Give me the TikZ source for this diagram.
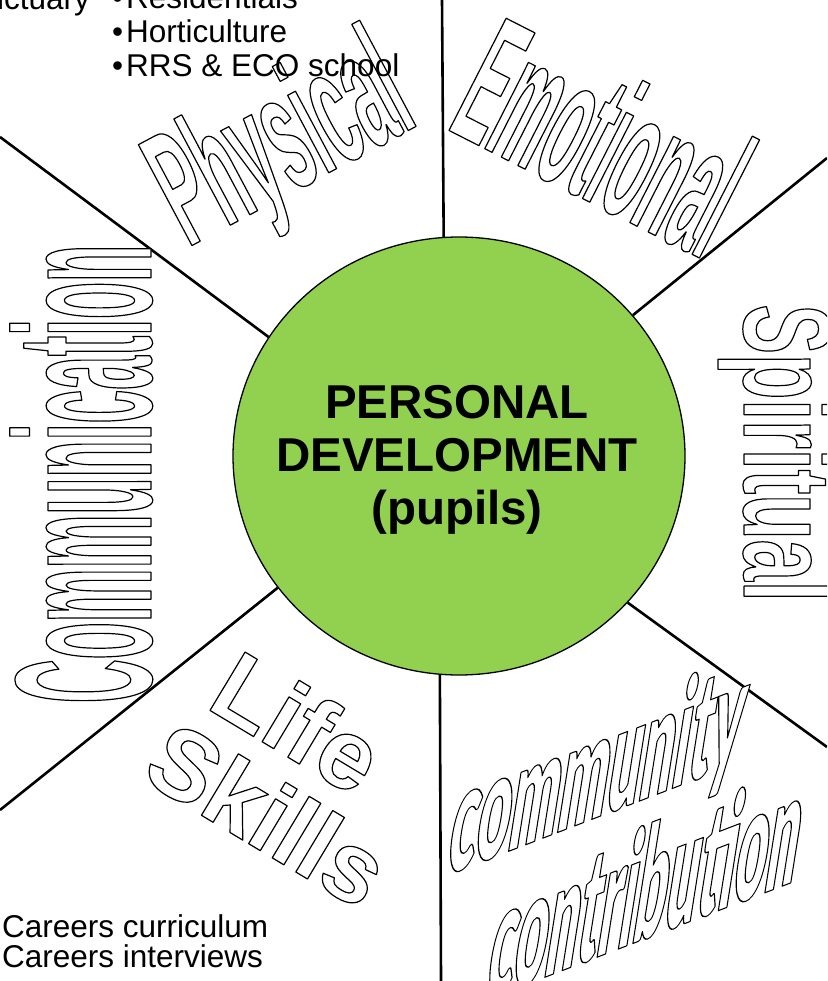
\documentclass[tikz,border=0pt]{standalone}
\usepackage{xcolor}
\usepackage{fontspec}
\usepackage{tikz}
\usetikzlibrary{shapes.geometric}
\setmainfont{Liberation Sans}
\newfontfamily\physfont{Liberation Sans}[FakeStretch=0.39]
\newfontfamily\emofont{Liberation Sans}[FakeStretch=0.327]
\newfontfamily\commfont{Liberation Sans}[FakeStretch=0.311]
\newfontfamily\spirfont{Liberation Sans}[FakeStretch=0.594]
\newfontfamily\cmtyfont{Lato Black}[FakeStretch=0.40]
\newfontfamily\contfont{Lato Black}[FakeStretch=0.36]
\definecolor{pdgreen}{RGB}{146,208,80}
% hollow letters: white fill, thin black outline
\newcommand\hollow[1]{\special{pdf:literal direct 2 Tr 1 j 1 g 0 G 1.2 w}#1%
  \special{pdf:literal direct 0 Tr 0 j 0 g}}
\tikzset{spoke/.style={line width=2.6pt}}
\tikzset{hub/.style={ellipse, draw, line width=1.3pt, fill=pdgreen,
    inner sep=0pt, minimum width=452, minimum height=438}}
\tikzset{wordart/.style={inner sep=0pt}}
\tikzset{slantup/.style={wordart, rotate=21, xslant=0.577, yscale=0.867}}
\tikzset{note/.style={inner sep=0pt, anchor=base west,
    font=\fontsize{31.5}{34}\selectfont}}

\begin{document}
\begin{tikzpicture}[x=1pt, y=-1pt]
      \useasboundingbox (0,0) rectangle (827,981);
      \fill[white] (0,0) rectangle (827,981);
      \clip (0,0) rectangle (827,981);
      \node[hub] (pd) at (459,456) {};
      \node[inner sep=0pt, align=center,
        font=\bfseries\fontsize{47.5}{53}\selectfont] (pdtext) at (457,460)
        {PERSONAL\\DEVELOPMENT\\(pupils)};
      % spokes out to the page edge
      \coordinate (north) at (442,0);
      \coordinate (south) at (441,981);
      \coordinate (nwest) at (0,137);
      \coordinate (neast) at (827,158);
      \coordinate (swest) at (0,810);
      \coordinate (seast) at (827,747);
      \draw[spoke] (pd.94.5) -- (north);
      \draw[spoke] (pd.265.3) -- (south);
      \draw[spoke] (pd.148.3) -- (nwest);
      \draw[spoke] (pd.39.9) -- (neast);
      \draw[spoke] (pd.216.9) -- (swest);
      \draw[spoke] (pd.319.3) -- (seast);
%%%%%%%%%%%%
      \node[wordart, rotate=28, font=\physfont\bfseries\fontsize{166}{166}\selectfont]
        (phys) at (284,148) {\hollow{Physical}};
      \node[wordart, rotate=-27, font=\emofont\bfseries\fontsize{183}{183}\selectfont]
        (emo) at (604,136) {\hollow{Emotional}};
      \node[wordart, rotate=90, anchor=base, font=\commfont\bfseries\fontsize{195}{195}\selectfont]
        (comm) at (151,474) {\hollow{Communication}};
      \node[wordart, rotate=-90, anchor=base, font=\spirfont\bfseries\fontsize{125}{125}\selectfont]
        (spir) at (744,453) {\hollow{Spiritual}};
      \node[wordart, rotate=-31, font=\bfseries\fontsize{99}{99}\selectfont]
        (life) at (298,722) {\hollow{Life}};
      \node[wordart, rotate=-31, font=\bfseries\fontsize{99}{99}\selectfont]
        (skills) at (268,814) {\hollow{Skills}};
      \node[slantup, font=\cmtyfont\fontsize{154}{154}\selectfont]
        (cmty) at (598,775) {\hollow{community}};
      \node[slantup, font=\contfont\fontsize{164}{164}\selectfont]
        (cont) at (648,881) {\hollow{contribution}};
%%%%%%%%%%%%
      \node[note, anchor=base east] (sanct) at (90,10) {ictuary};
      \node[note] (resid) at (112,9) {\textbullet\kern3pt Residentials};
      \node[note] (hort) at (112,43) {\textbullet\kern3pt Horticulture};
      \node[note] (rrs) at (112,77) {\textbullet\kern3pt RRS \& ECO school};
      \node[note] (curr) at (2,937) {Careers curriculum};
      \node[note] (intv) at (2,967) {Careers interviews};
    \end{tikzpicture}
\end{document}
